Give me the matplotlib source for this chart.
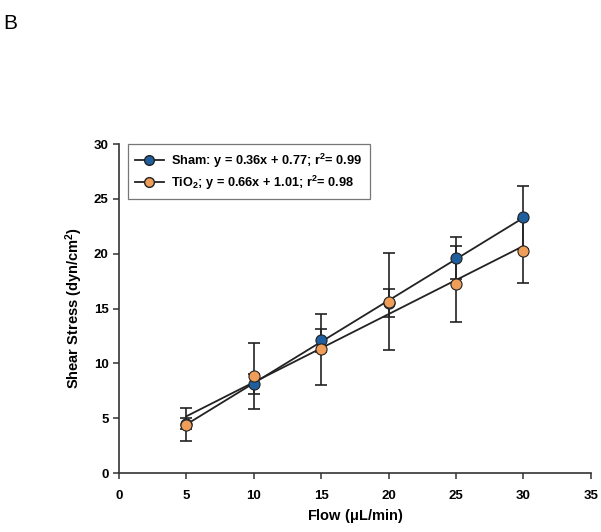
import numpy as np
import matplotlib
matplotlib.use("Agg")
import matplotlib.pyplot as plt
from matplotlib.lines import Line2D

plt.rcParams['font.family'] = ['Liberation Sans', 'DejaVu Sans']
plt.rcParams['mathtext.fontset'] = 'custom'
plt.rcParams['mathtext.rm'] = 'Liberation Sans:bold'
plt.rcParams['mathtext.it'] = 'Liberation Sans:bold'
plt.rcParams['mathtext.bf'] = 'Liberation Sans:bold'

flow = [5, 10, 15, 20, 25, 30]
sham_mean = [4.5, 8.1, 12.1, 15.5, 19.6, 23.3]
sham_err = [0.5, 0.9, 1.03, 1.3, 1.9, 2.88]
tio2_mean = [4.4, 8.85, 11.27, 15.62, 17.23, 20.24]
tio2_err = [1.5, 3.05, 3.25, 4.42, 3.49, 2.95]

sham_label = r'Sham: y = 0.36x + 0.77; r$^{2}$= 0.99'
tio2_label = r'TiO$_{2}$; y = 0.66x + 1.01; r$^{2}$= 0.98'
x_ticks = [0, 5, 10, 15, 20, 25, 30, 35]
y_ticks = [0, 5, 10, 15, 20, 25, 30]

blue = '#1f5f9e'
orange = '#ef9e5a'

fig = plt.figure(figsize=(6.01, 5.32), dpi=100)
ax = fig.add_axes([0.198, 0.1109, 0.785, 0.6184])

x = np.array(flow, dtype=float)
for mean, err in [(sham_mean, sham_err), (tio2_mean, tio2_err)]:
    ax.errorbar(x, mean, yerr=err, fmt='none', ecolor='#222222',
                elinewidth=1.2, capsize=4.5, capthick=1.2, zorder=2)

for mean in [sham_mean, tio2_mean]:
    k, b = np.polyfit(x, np.array(mean), 1)
    xs = np.array([x.min(), x.max()])
    ax.plot(xs, k * xs + b, color='#222222', lw=1.3, zorder=3)

ax.plot(x, sham_mean, 'o', ms=8, mfc=blue, mec='#222222', mew=0.8, zorder=4)
ax.plot(x, tio2_mean, 'o', ms=8, mfc=orange, mec='#222222', mew=0.8, zorder=5)

ax.set_xlim(0, 35)
ax.set_ylim(0, 30)
ax.set_xticks(x_ticks)
ax.set_yticks(y_ticks)
for s in ['top', 'right']:
    ax.spines[s].set_visible(False)
for s in ['left', 'bottom']:
    ax.spines[s].set_color('#333333')
    ax.spines[s].set_linewidth(1.2)
ax.tick_params(direction='out', length=4, width=1.1, color='#333333',
               labelsize=9.5)
for lab in ax.get_xticklabels() + ax.get_yticklabels():
    lab.set_fontweight('bold')
ax.tick_params(axis='x', pad=8)

ax.set_xlabel(r'Flow ($\mathregular{\mu}$L/min)', fontsize=10.5, fontweight='bold', labelpad=4)
ax.set_ylabel(r'Shear Stress (dyn/cm$^{2}$)', fontsize=10.5, fontweight='bold', labelpad=6)

handles = [
    Line2D([0], [0], color='#222222', lw=1.3, marker='o', ms=7, mfc=blue, mec='#222222'),
    Line2D([0], [0], color='#222222', lw=1.3, marker='o', ms=7, mfc=orange, mec='#222222'),
]
leg = ax.legend(handles, [sham_label, tio2_label], loc='upper left',
                bbox_to_anchor=(0.005, 1.02), fancybox=False, edgecolor='#555555',
                prop={'weight': 'bold', 'size': 9.2}, handlelength=2.2,
                borderpad=0.6, labelspacing=0.3, handletextpad=0.6)
leg.get_frame().set_linewidth(0.9)

fig.text(0.005, 0.955, 'B', fontsize=15, ha='left', va='center')

fig.savefig('out.png', dpi=100)
